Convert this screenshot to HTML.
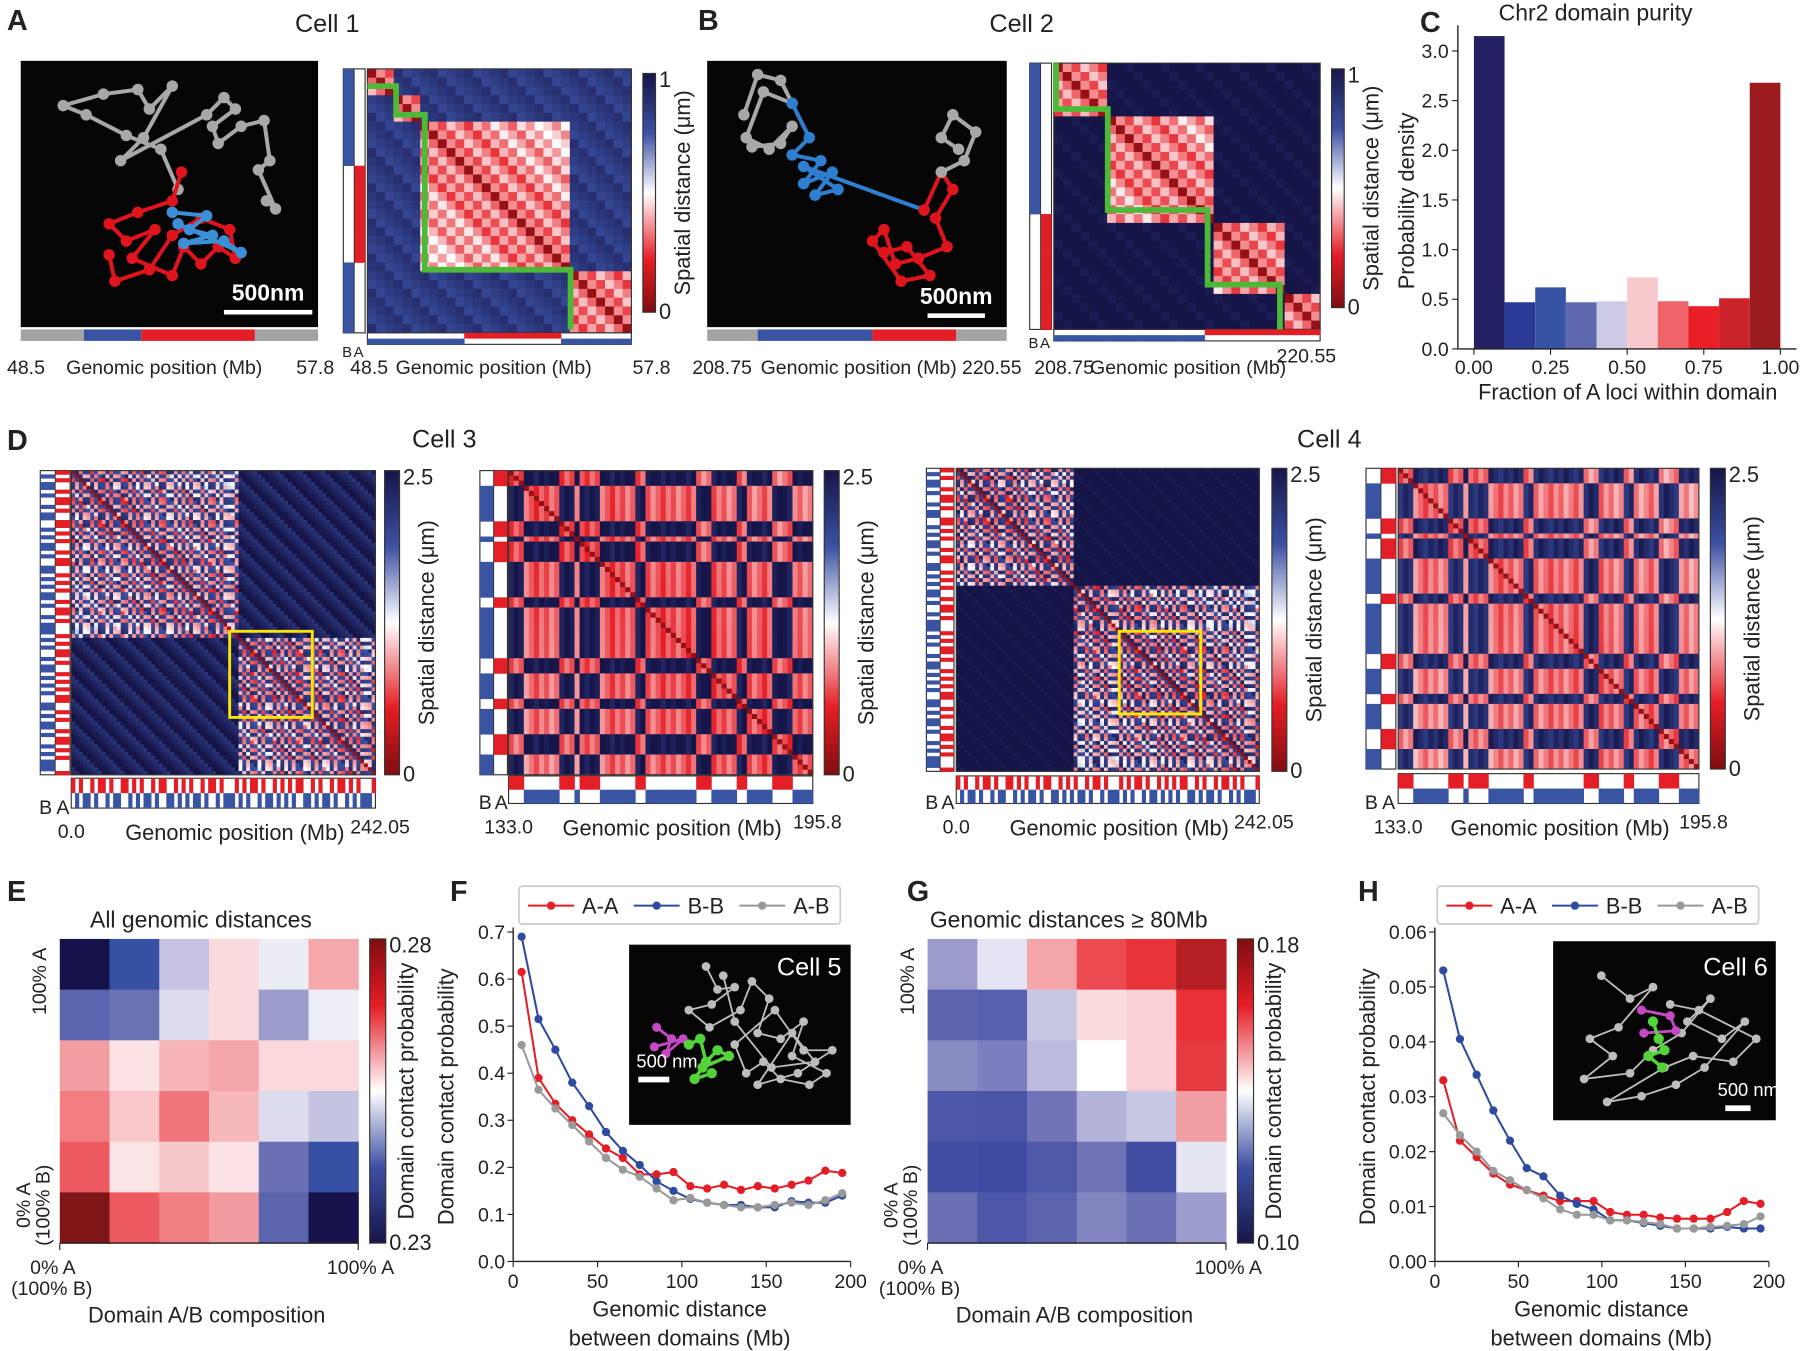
<!DOCTYPE html>
<html><head><meta charset="utf-8">
<style>
html,body{margin:0;padding:0;background:#fff;}
svg{display:block;font-family:"Liberation Sans",Arial,sans-serif;}
</style></head>
<body>
<svg id="fig" width="1800" height="1351" viewBox="0 0 1568 1177" xmlns="http://www.w3.org/2000/svg">
<g id="static" font-family="Liberation Sans, Arial, sans-serif" fill="#222">
  <text x="6" y="26" font-size="25" font-weight="bold">A</text>
  <text x="608" y="26" font-size="25" font-weight="bold">B</text>
  <text x="1237" y="28" font-size="25" font-weight="bold">C</text>
  <text x="6" y="392" font-size="25" font-weight="bold">D</text>
  <text x="6" y="785" font-size="25" font-weight="bold">E</text>
  <text x="392" y="785" font-size="25" font-weight="bold">F</text>
  <text x="790" y="785" font-size="25" font-weight="bold">G</text>
  <text x="1183" y="785" font-size="25" font-weight="bold">H</text>
  <text x="285" y="28" font-size="22" text-anchor="middle">Cell 1</text>
  <text x="890" y="28" font-size="22" text-anchor="middle">Cell 2</text>
  <text x="387" y="390" font-size="22" text-anchor="middle">Cell 3</text>
  <text x="1158" y="390" font-size="22" text-anchor="middle">Cell 4</text>
</g>
<g id="dyn"></g>
</svg>
<script>
// ---------------- DATA ----------------
const histEdges = [0,0.1,0.2,0.3,0.4,0.5,0.6,0.7,0.8,0.9,1.0];
const histValues = [3.15,0.47,0.62,0.47,0.48,0.72,0.48,0.43,0.51,2.68];
const histColors = ["#232063","#2a3a96","#3753a3","#5e67ad","#cccbe3","#f7c9cc","#ee6468","#e81f27","#cc2229","#9b1b1f"];
const histYTicks = ["0.0","0.5","1.0","1.5","2.0","2.5","3.0"];
const histXTicks = ["0.00","0.25","0.50","0.75","1.00"];

const distX = [5,15,25,35,45,55,65,75,85,95,105,115,125,135,145,155,165,175,185,195];
const fAA = [0.615,0.39,0.335,0.30,0.27,0.24,0.22,0.185,0.185,0.19,0.16,0.155,0.163,0.152,0.16,0.155,0.163,0.172,0.193,0.188];
const fBB = [0.69,0.515,0.45,0.38,0.33,0.275,0.235,0.205,0.17,0.15,0.133,0.125,0.12,0.12,0.115,0.115,0.128,0.125,0.125,0.14];
const fAB = [0.46,0.365,0.325,0.29,0.255,0.22,0.195,0.18,0.155,0.13,0.135,0.125,0.12,0.115,0.115,0.12,0.125,0.12,0.13,0.145];
const fYTicks = ["0.0","0.1","0.2","0.3","0.4","0.5","0.6","0.7"];
const hAA = [0.033,0.022,0.019,0.016,0.014,0.013,0.012,0.011,0.011,0.011,0.009,0.0085,0.0085,0.008,0.0078,0.0078,0.0078,0.009,0.011,0.0105];
const hBB = [0.053,0.0405,0.034,0.0275,0.022,0.017,0.0155,0.012,0.0105,0.0095,0.0075,0.0075,0.007,0.0065,0.006,0.006,0.006,0.0063,0.006,0.006];
const hAB = [0.027,0.023,0.020,0.0165,0.0148,0.013,0.0115,0.0095,0.0085,0.0085,0.0075,0.0075,0.0072,0.0068,0.006,0.006,0.0063,0.0065,0.0068,0.0082];
const hYTicks = ["0.00","0.01","0.02","0.03","0.04","0.05","0.06"];
const xTicksDist = ["0","50","100","150","200"];

const eColors = [
 ["#16124a","#3650a4","#c6c4e2","#fadadd","#ececf5","#f4a8ab"],
 ["#5b64ae","#6b72b3","#dcdbee","#fadadd","#9b9ccc","#eeeef7"],
 ["#f29da2","#fbe3e5","#f6b6b9","#f4a5a8","#fad8db","#fad8db"],
 ["#f07d80","#f8c8cb","#ef7579","#f6b8bb","#dddced","#c4c3e1"],
 ["#ec5a60","#fbe4e6","#f7c8cb","#fbe3e5","#6b70b4","#3650a4"],
 ["#7e1517","#ec5a60","#f07f82","#f29ca0","#5c64ae","#16124a"]];
const gColors = [
 ["#9b9ccc","#e4e4f2","#f4a5a8","#ea4a50","#e73338","#b51f24"],
 ["#5c64ae","#5660ac","#c8c7e3","#fadbdd","#f8d0d3","#e83036"],
 ["#8a8cc4","#7b7fbd","#bcbbdd","#ffffff","#f8d0d3","#e63a40"],
 ["#4c57a8","#4a55a7","#7074b6","#b3b2d8","#c9c8e4","#f19ea2"],
 ["#3f4da2","#3e4ba2","#4e59a8","#7074b6","#3f4da2","#e6e6f3"],
 ["#6b70b4","#4c57a8","#5c64ae","#8385c0","#6b70b4","#9c9dcd"]];

const compA = "BBBBBBBBBBBAAAAAAAAAAABBBBBBBB";
const domA  = [0,0,0,1,1,1,2,2,2,2,2,2,2,2,2,2,2,2,2,2,2,2,2,3,3,3,3,3,3,3];
const compB = "BBBBBBBBBBBBBBBBBAAAAAAAAAAAAA";
const domB  = [0,0,0,0,0,0,1,1,1,1,1,1,1,1,1,1,1,1,2,2,2,2,2,2,2,2,3,3,3,3];
const compChr = "ABABBABAABABBAABABABBABAABBABABABBABAABABBBABABAABABBABABABAABBABABBABAABABABBBA";
const compArm = "AAABBBBBBBAAABAAAABBBBBBBAABBBBBBBBBBAAABBBBBAABBBBBAAAABBBB";
const terrCell3 = 44;
const terrCell4 = 31;

// ---------------- HELPERS ----------------
const NS="http://www.w3.org/2000/svg";
const root=document.getElementById('dyn');
function mk(tag,attrs,parent){const e=document.createElementNS(NS,tag);for(const k in attrs)e.setAttribute(k,attrs[k]);(parent||root).appendChild(e);return e;}
function txt(s,x,y,size,opts,parent){const e=mk('text',Object.assign({x:x,y:y,'font-size':size,fill:'#222'},opts||{}),parent);e.textContent=s;return e;}
function lerp(a,b,t){return a+(b-a)*t;}
function hex(c){return [parseInt(c.substr(1,2),16),parseInt(c.substr(3,2),16),parseInt(c.substr(5,2),16)];}
const stops=[[0,"#7f0d11"],[0.22,"#e51d25"],[0.5,"#ffffff"],[0.75,"#3c51a3"],[1,"#161548"]];
function cmap(t){t=Math.max(0,Math.min(1,t));for(let i=0;i<stops.length-1;i++){if(t<=stops[i+1][0]){const u=(t-stops[i][0])/(stops[i+1][0]-stops[i][0]);const a=hex(stops[i][1]),b=hex(stops[i+1][1]);return `rgb(${Math.round(lerp(a[0],b[0],u))},${Math.round(lerp(a[1],b[1],u))},${Math.round(lerp(a[2],b[2],u))})`;}}return stops[stops.length-1][1];}
const defs=mk('defs',{},document.getElementById('fig'));
(function(){const g=mk('linearGradient',{id:'cgrad',x1:0,y1:1,x2:0,y2:0},defs);stops.forEach(s=>mk('stop',{offset:s[0],'stop-color':s[1]},g));
 const g2=mk('linearGradient',{id:'cgradR',x1:0,y1:0,x2:0,y2:1},defs);stops.forEach(s=>mk('stop',{offset:s[0],'stop-color':s[1]},g2));})();
function colorbar(x,y,w,h,top,bot,label,name,grad,labOff){
  const r=mk('rect',{x:x,y:y,width:w,height:h,fill:'url(#'+(grad||'cgrad')+')',stroke:'#333','stroke-width':1});
  
  
  txt(top,x+w+3,y+12,19,{});
  txt(bot,x+w+3,y+h+6,19,{});
  const t=txt(label,0,0,19,{transform:`translate(${x+w+(labOff||30)},${y+h/2}) rotate(-90)`,'text-anchor':'middle'});
  
  
}
function heatmap(x,y,size,N,valueFn,name){
  const g=mk('g',{});
  
  
  const c=size/N;
  for(let i=0;i<N;i++)for(let j=0;j<N;j++){
    mk('rect',{x:(x+j*c).toFixed(2),y:(y+i*c).toFixed(2),width:(c+0.4).toFixed(2),height:(c+0.4).toFixed(2),fill:cmap(valueFn(i,j))},g);
  }
  mk('rect',{x:x,y:y,width:size,height:size,fill:'none',stroke:'#333','stroke-width':1},g);
}
function compBars(comp,hx,hy,size,lx,bw,by,bh,name){
  const N=comp.length,c=size/N;
  const g=mk('g',{});
  
  
  mk('rect',{x:lx,y:hy,width:bw*2,height:size,fill:'#fff',stroke:'#333','stroke-width':1},g);
  mk('rect',{x:hx,y:by,width:size,height:bh*2,fill:'#fff',stroke:'#333','stroke-width':1},g);
  for(let i=0;i<N;i++){
    if(comp[i]==='A'){mk('rect',{x:lx+bw,y:hy+i*c,width:bw,height:c+0.3,fill:'#e41e26'},g);mk('rect',{x:hx+i*c,y:by,width:c+0.3,height:bh,fill:'#e41e26'},g);}
    else {mk('rect',{x:lx,y:hy+i*c,width:bw,height:c+0.3,fill:'#3a54a4'},g);mk('rect',{x:hx+i*c,y:by+bh,width:c+0.3,height:bh,fill:'#3a54a4'},g);}
  }
  mk('line',{x1:lx+bw,y1:hy,x2:lx+bw,y2:hy+size,stroke:'#333','stroke-width':0.8},g);
}

function structure(bx,by,bw,bh,chains,name,scaleTxt,sbx,sby,sbw){
  const g=mk('g',{});
  
  
  mk('rect',{x:bx,y:by,width:bw,height:bh,fill:'#050505'},g);
  chains.forEach(ch=>{
    mk('polyline',{points:ch.pts.map(p=>p.join(',')).join(' '),fill:'none',stroke:ch.c,'stroke-width':ch.w||3.5,'stroke-linejoin':'round'},g);
    ch.pts.forEach(p=>mk('circle',{cx:p[0],cy:p[1],r:ch.r||5,fill:ch.c},g));
  });
  if(scaleTxt){txt(scaleTxt,sbx+sbw/2,sby-8,20,{'text-anchor':'middle',fill:'#fff','font-weight':'bold'},g);mk('rect',{x:sbx,y:sby,width:sbw,height:4,fill:'#fff'},g);}
  return g;
}
structure(18,53,259,232,[
 {c:'#a8a8a8',pts:[[155,165],[140,130],[110,118],[75,100],[55,92],[90,82],[120,78],[130,95],[150,75],[125,120],[105,140],[180,100],[195,85],[205,95],[185,110],[190,125],[210,110],[230,105],[235,140],[225,148],[240,182],[232,175]]},
 {c:'#e0141c',pts:[[158,150],[150,175],[120,185],[95,195],[110,210],[135,200],[115,225],[150,240],[160,215],[175,230],[190,215],[205,225],[200,200],[175,190],[150,205],[130,235],[100,245],[95,222]]},
 {c:'#3a8fd6',pts:[[150,185],[180,188],[165,200],[185,205],[160,212],[195,210],[210,220],[155,195]]}
],'cell1-structure','500nm',195,270,77);
mk('rect',{x:18,y:287,width:55,height:10,fill:'#a3a3a3'});
mk('rect',{x:73,y:287,width:50,height:10,fill:'#3a54a4'});
mk('rect',{x:123,y:287,width:99,height:10,fill:'#e41e26'});
mk('rect',{x:222,y:287,width:55,height:10,fill:'#a3a3a3'});
txt('48.5',6,326,17,{});txt('Genomic position (Mb)',143,326,17,{'text-anchor':'middle'});txt('57.8',258,326,17,{});

structure(616,53,261,232,[
 {c:'#a8a8a8',pts:[[648,100],[660,65],[680,70],[690,90],[665,80],[650,120],[670,130],[690,110],[680,125],[655,128]]},
 {c:'#2f7fd0',pts:[[690,90],[705,120],[690,135],[715,140],[700,160],[725,150],[710,170],[730,165],[700,145],[805,183]]},
 {c:'#e0141c',pts:[[805,183],[820,150],[830,165],[815,190],[825,215],[800,225],[780,230],[770,200],[760,210],[785,245],[810,240],[790,215],[770,220]]},
 {c:'#a8a8a8',pts:[[820,150],[840,140],[850,115],[830,100],[820,120],[835,130]]}
],'cell2-structure','500nm',808,273,50);
mk('rect',{x:616,y:287,width:44,height:10,fill:'#a3a3a3'});
mk('rect',{x:660,y:287,width:100,height:10,fill:'#3a54a4'});
mk('rect',{x:760,y:287,width:73,height:10,fill:'#e41e26'});
mk('rect',{x:833,y:287,width:44,height:10,fill:'#a3a3a3'});
txt('208.75',603,326,17,{});txt('Genomic position (Mb)',748,326,17,{'text-anchor':'middle'});txt('220.55',838,326,17,{});

function domValue(dom,blueVal){return (i,j)=>{if(i===j)return 0.05;if(dom[i]===dom[j])return Math.min(0.5,0.2+0.01*Math.abs(i-j)+(((i*7+j*13)%5)*0.05));return blueVal+(((i*3+j*5)%4)*0.03);};}
heatmap(320,60,230,compA.length,domValue(domA,0.8),'cell1-distance-map');
compBars(compA,320,60,230,299,9.5,290,5,'cell1-compartment-bars');
mk('polyline',{points:'320,75 345,75 345,100 370,100 370,235 497,235 497,287',fill:'none',stroke:'#4cba38','stroke-width':5});
txt('B',298,311,13,{});txt('A',308,311,13,{});
txt('48.5',305,326,17,{});txt('Genomic position (Mb)',430,326,17,{'text-anchor':'middle'});txt('57.8',551,326,17,{});
colorbar(560,64,11,208,'1','0','Spatial distance (μm)','cell1-colorbar');

heatmap(918,55,232,compB.length,domValue(domB,0.97),'cell2-distance-map');
compBars(compB,918,55,232,897,9.5,287,5,'cell2-compartment-bars');
mk('polyline',{points:'920,55 920,95 965,95 965,183 1052,183 1052,248 1115,248 1115,287',fill:'none',stroke:'#4cba38','stroke-width':5});
txt('B',896,303,13,{});txt('A',906,303,13,{});
txt('208.75',901,326,17,{});txt('Genomic position (Mb)',1035,326,17,{'text-anchor':'middle'});txt('220.55',1112,316,17,{});
colorbar(1160,60,11,208,'1','0','Spatial distance (μm)','cell2-colorbar');

// ---------------- PANEL C ----------------
(function(){
  const x0=1270,xL=1284,xR=1551,y0=304,yTop=44.4;
  const sx=v=>xL+(xR-xL)*v, sy=v=>y0-(y0-yTop)*v/3;
  txt('Chr2 domain purity',1390,18,20,{'text-anchor':'middle'});
  histValues.forEach((v,i)=>{
    const r=mk('rect',{x:sx(histEdges[i]),y:sy(v),width:sx(histEdges[i+1])-sx(histEdges[i]),height:y0-sy(v),fill:histColors[i]});
    
    
  });
  mk('line',{x1:x0,y1:22,x2:x0,y2:y0,stroke:'#222','stroke-width':1.2});
  mk('line',{x1:x0,y1:y0,x2:1565,y2:y0,stroke:'#222','stroke-width':1.2});
  histYTicks.forEach(t=>{const y=sy(parseFloat(t));mk('line',{x1:x0-5,y1:y,x2:x0,y2:y,stroke:'#222'});txt(t,x0-8,y+6,17,{'text-anchor':'end'});});
  histXTicks.forEach(t=>{const x=sx(parseFloat(t));mk('line',{x1:x,y1:y0,x2:x,y2:y0+5,stroke:'#222'});txt(t,x,y0+22,17,{'text-anchor':'middle'});});
  txt('Fraction of A loci within domain',1418,348,19,{'text-anchor':'middle'});
  txt('Probability density',0,0,19,{transform:'translate(1232,175) rotate(-90)','text-anchor':'middle'});
})();

// ---------------- PANEL D ----------------
function chrValue(comp,terr,sameT,diffCT,crossT){return (i,j)=>{
  if(i===j)return 0.05;
  const ti=i<terr?0:1,tj=j<terr?0:1;
  const k=((i*7+j*11)%6)*0.03;
  if(ti!==tj)return crossT+k;
  if(comp[i]===comp[j])return (comp[i]==='A'?sameT:sameT+0.1)+k+0.003*Math.abs(i-j);
  return diffCT+k;};}
function armValue(comp,same,diff){return (i,j)=>{if(i===j)return 0.05;const k=((i*5+j*3)%5)*0.03;if(comp[i]===comp[j])return same+k+0.001*Math.abs(i-j);return diff+k;};}
function dPanel(x,y,size,comp,fn,lx,bw,by,bh,name,xa,xb,cbx){
  heatmap(x,y,size,comp.length,fn,name+'-map');
  compBars(comp,x,y,size,lx,bw,by,bh,name+'-compartment-bars');
  txt('B',lx-1,by+bh*2+5,17,{});txt('A',lx+bw+1,by+bh*2+5,17,{});
  txt(xa,x,by+bh*2+26,17,{'text-anchor':'middle'});
  txt('Genomic position (Mb)',x+size/2+10,by+bh*2+28,19,{'text-anchor':'middle'});
  txt(xb,x+size+4,by+bh*2+22,17,{'text-anchor':'middle'});
  colorbar(cbx,y,13,size,'2.5','0','Spatial distance (μm)',name+'-colorbar');
}
dPanel(62,410,265,compChr,chrValue(compChr,terrCell3,0.2,0.75,0.88),35,13,678,13,'cell3-chr',"0.0","242.05",335);
mk('rect',{x:200,y:550,width:72,height:75,fill:'none',stroke:'#ffe600','stroke-width':2.5});
dPanel(443,410,265,compArm,armValue(compArm,0.22,0.93),418,12,676,12,'cell3-arm',"133.0","195.8",718);
dPanel(833,408,264,compChr,chrValue(compChr,terrCell4,0.2,0.78,0.97),807,12,676,12,'cell4-chr',"0.0","242.05",1108);
mk('rect',{x:975,y:550,width:71,height:72,fill:'none',stroke:'#ffe600','stroke-width':2.5});
dPanel(1218,408,262,compArm,armValue(compArm,0.25,0.85),1190,13,674,13,'cell4-arm',"133.0","195.8",1490);

// ---------------- PANEL E / G ----------------
function blockMap(x,y,w,h,cols,name){
  const n=cols.length,cw=w/n,ch=h/n;
  cols.forEach((row,i)=>row.forEach((c,j)=>{
    const r=mk('rect',{x:x+j*cw,y:y+i*ch,width:cw+0.5,height:ch+0.5,fill:c});
    
    
  }));
  mk('line',{x1:x,y1:y+h,x2:x+w,y2:y+h,stroke:'#222','stroke-width':1.2});
  mk('line',{x1:x,y1:y+h,x2:x,y2:y+h+6,stroke:'#222'});
  mk('line',{x1:x+w,y1:y+h,x2:x+w,y2:y+h+6,stroke:'#222'});
}
function ePanel(x,title,cols,top,bot,name){
  txt(title,x+123,808,20,{'text-anchor':'middle'});
  blockMap(x,818,260,265,cols,name);
  txt('100% A',0,0,17,{transform:`translate(${x-12},855) rotate(-90)`,'text-anchor':'middle'});
  txt('0% A',0,0,17,{transform:`translate(${x-26},1050) rotate(-90)`,'text-anchor':'middle'});
  txt('(100% B)',0,0,17,{transform:`translate(${x-9},1050) rotate(-90)`,'text-anchor':'middle'});
  txt('0% A',x-6,1110,17,{'text-anchor':'middle'});
  txt('(100% B)',x-7,1128,17,{'text-anchor':'middle'});
  txt('100% A',x+262,1110,17,{'text-anchor':'middle'});
  txt('Domain A/B composition',x+128,1152,19,{'text-anchor':'middle'});
  colorbar(x+270,818,14,265,top,bot,'Domain contact probability',name+'-colorbar','cgradR',24);
}
ePanel(52,'All genomic distances',eColors,'0.28','0.23','all-distances-heatmap');
ePanel(808,'Genomic distances ≥ 80Mb',gColors,'0.18','0.10','far-distances-heatmap');

// ---------------- PANEL F / H ----------------
function lineChart(ax,ay0,ax1,ayTop,ymax,ticks,series,legendX,name){
  const sx=v=>ax+(ax1-ax)*v/200, sy=v=>ay0-(ay0-ayTop)*v/ymax;
  mk('line',{x1:ax,y1:ayTop-4,x2:ax,y2:ay0,stroke:'#222','stroke-width':1.2});
  mk('line',{x1:ax,y1:ay0,x2:ax1,y2:ay0,stroke:'#222','stroke-width':1.2});
  ticks.forEach(t=>{const y=sy(parseFloat(t));mk('line',{x1:ax-5,y1:y,x2:ax,y2:y,stroke:'#222'});txt(t,ax-7,y+6,17,{'text-anchor':'end'});});
  xTicksDist.forEach(t=>{const x=sx(parseFloat(t));mk('line',{x1:x,y1:ay0,x2:x,y2:ay0+5,stroke:'#222'});txt(t,x,ay0+23,17,{'text-anchor':'middle'});});
  txt('Genomic distance',ax+145,1147,19,{'text-anchor':'middle'});
  txt('between domains (Mb)',ax+145,1172,19,{'text-anchor':'middle'});
  txt('Domain contact probability',0,0,19,{transform:`translate(${ax-52},${(ay0+ayTop)/2}) rotate(-90)`,'text-anchor':'middle'});
  series.forEach(s=>{
    const g=mk('g',{});
    
    
    mk('polyline',{points:s.v.map((v,i)=>sx(distX[i]).toFixed(1)+','+sy(v).toFixed(1)).join(' '),fill:'none',stroke:s.c,'stroke-width':1.8},g);
    s.v.forEach((v,i)=>mk('circle',{cx:sx(distX[i]),cy:sy(v),r:3.6,fill:s.c},g));
  });
  const lg=mk('g',{});
  
  
  mk('rect',{x:legendX,y:772,width:280,height:33,rx:3,fill:'#fff',stroke:'#ccc','stroke-width':1.5},lg);
  series.forEach((s,k)=>{const lx=legendX+8+k*92;mk('line',{x1:lx,y1:789,x2:lx+40,y2:789,stroke:s.c,'stroke-width':1.8},lg);mk('circle',{cx:lx+20,cy:789,r:3.6,fill:s.c},lg);txt(s.n,lx+47,796,19,{},lg);});
}
lineChart(447,1099,741,812,0.7,fYTicks,[{n:'A-A',v:fAA,c:'#e41e26'},{n:'B-B',v:fBB,c:'#2e4ba0'},{n:'A-B',v:fAB,c:'#999'}],452,'contact-curve-cell5');
lineChart(1250,1099,1541,812,0.06,hYTicks,[{n:'A-A',v:hAA,c:'#e41e26'},{n:'B-B',v:hBB,c:'#2e4ba0'},{n:'A-B',v:hAB,c:'#999'}],1252,'contact-curve-cell6');

function inset(x,y,w,h,label,lx,ly,sbx,sby,pts,green,mag,name){
  const g=structure(x,y,w,h,[
    {c:'#bdbdbd',pts:pts,w:1.6,r:3.8},
    {c:'#c548c5',pts:mag,w:2.5,r:4},
    {c:'#54d23a',pts:green,w:3,r:4.5}],name,null);
  txt(label,lx,ly,22,{fill:'#fff','text-anchor':'end'},g);
  txt('500 nm',sbx+(label==='Cell 5'?25:20),sby-8,16,{fill:'#fff','text-anchor':'middle'},g);
  mk('rect',{x:sbx,y:sby,width:label==='Cell 5'?27:22,height:5,fill:'#fff'},g);
}
inset(548,823,193,157,'Cell 5',733,850,556,938,
 [[615,842],[625,862],[640,860],[620,875],[600,880],[618,895],[645,880],[655,855],[670,870],[660,900],[680,905],[700,890],[690,920],[720,935],[705,945],[680,940],[665,925],[650,935],[640,910],[675,880],[700,915],[725,915],[695,935],[660,945],[690,900],[710,925],[672,930],[640,890],[630,850]],
 [[600,910],[610,905],[615,925],[625,915],[635,920],[612,930],[605,940],[620,935]],
 [[572,895],[585,905],[580,918],[595,905],[570,912]],'cell5-structure');
inset(1353,820,194,156,'Cell 6',1540,850,1503,963,
 [[1395,850],[1420,870],[1440,860],[1410,895],[1385,905],[1405,920],[1380,940],[1420,935],[1440,915],[1465,900],[1490,870],[1470,890],[1500,905],[1520,890],[1485,930],[1460,945],[1430,955],[1400,960],[1450,930],[1475,920],[1510,925],[1530,905],[1480,880],[1455,875]],
 [[1440,890],[1445,905],[1450,915],[1436,920],[1448,930]],
 [[1430,880],[1455,885],[1460,898],[1432,900]],'cell6-structure');
</script>
</body></html>
